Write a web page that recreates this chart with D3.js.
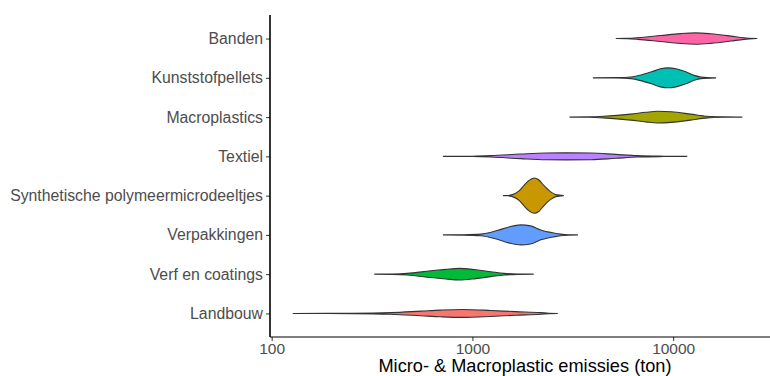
<html>
<head>
<script src="https://d3js.org/d3.v7.min.js"></script>
<style>
  body { margin: 0; background: white; }
  text { font-family: "Liberation Sans", Arial, sans-serif; }
</style>
</head>
<body>
<script>
// categories, top to bottom
var categories = ["Banden", "Kunststofpellets", "Macroplastics", "Textiel",
  "Synthetische polymeermicrodeeltjes", "Verpakkingen", "Verf en coatings", "Landbouw"];

var fills = ["#FF64A6", "#00BFB4", "#A3A500", "#B983FF", "#C99800", "#619CFF", "#00BA38", "#F8766D"];

// violin profiles: [emission (ton), relative density]
var banden = [[5200,0],[5900,0.01],[6660,0.045],[8670,0.17],[10900,0.28],[12960,0.32],[15400,0.27],[19400,0.14],[22500,0.045],[26100,0]];
var kunststofpellets = [[4000,0],[5180,0.01],[6150,0.045],[6900,0.16],[7800,0.34],[8640,0.51],[9430,0.565],[10330,0.51],[11560,0.34],[12720,0.14],[13750,0.045],[16300,0]];
var macroplastics = [[3060,0],[3800,0.01],[4500,0.045],[6150,0.17],[7300,0.27],[8350,0.33],[9800,0.3],[12200,0.17],[14800,0.045],[18000,0.01],[22000,0]];
var textiel = [[717,0],[1000,0.01],[1234,0.04],[1740,0.13],[2320,0.19],[2920,0.2],[3890,0.19],[5180,0.11],[6640,0.04],[9000,0.01],[11700,0]];
var synthetische = [[1427,0],[1500,0.01],[1582,0.056],[1707,0.27],[1808,0.58],[1908,0.85],[2028,1],[2139,0.9],[2274,0.56],[2455,0.21],[2600,0.056],[2840,0]];
var verpakkingen = [[717,0],[900,0.01],[1100,0.045],[1330,0.25],[1520,0.45],[1740,0.565],[1950,0.51],[2190,0.28],[2540,0.11],[2750,0.045],[3000,0.01],[3340,0]];
var verf = [[326,0],[400,0.01],[474,0.045],[620,0.19],[736,0.27],[858,0.33],[1038,0.25],[1234,0.14],[1437,0.045],[1700,0.01],[2010,0]];
var landbouw = [[128,0],[250,0.01],[392,0.045],[553,0.13],[695,0.19],[892,0.225],[1234,0.17],[1644,0.1],[2189,0.045],[2400,0.01],[2652,0]];

var profiles = [banden, kunststofpellets, macroplastics, textiel, synthetische, verpakkingen, verf, landbouw];

var xTicks = [100, 1000, 10000];
var xTitle = "Micro- & Macroplastic emissies (ton)";

var svgWidth = 770, svgHeight = 376;
var plotLeft = 270, plotTop = 15, plotBottom = 337, plotRight = 780;

var svg = d3.select("body").append("svg")
  .attr("width", svgWidth)
  .attr("height", svgHeight);

// log scale with ggplot-like 5% expansion of the data range
var allVals = d3.merge(profiles).map(function(d) { return d[0]; });
var lo = Math.log10(d3.min(allVals)), hi = Math.log10(d3.max(allVals));
var pad = (hi - lo) * 0.05;
var x = d3.scaleLog()
  .domain([Math.pow(10, lo - pad), Math.pow(10, hi + pad)])
  .range([plotLeft, plotRight]);

var y = d3.scalePoint()
  .domain(categories)
  .range([plotTop, plotBottom])
  .padding(0.6);

var maxHalf = 0.45 * y.step();

var plot = svg.append("g");

categories.forEach(function(cat, i) {
  var cy = y(cat);
  var area = d3.area()
    .curve(d3.curveMonotoneX)
    .x(function(d) { return x(d[0]); })
    .y0(function(d) { return cy + d[1] * maxHalf; })
    .y1(function(d) { return cy - d[1] * maxHalf; });
  plot.append("path")
    .datum(profiles[i])
    .attr("d", area)
    .style("fill", fills[i])
    .style("stroke", "#333333")
    .style("stroke-width", 1.1)
    .style("stroke-linejoin", "round");
});

// y axis
var yAxis = svg.append("g")
  .attr("transform", "translate(" + plotLeft + ",0)")
  .call(d3.axisLeft(y).tickSize(4).tickPadding(3));
yAxis.select(".domain").remove();
yAxis.selectAll(".tick line").attr("stroke", "#333333");
yAxis.selectAll(".tick text")
  .attr("fill", "#4d4d4d")
  .style("font-size", "15.8px")
  .style("font-family", "'Liberation Sans', Arial, sans-serif");

// x axis
var xAxis = svg.append("g")
  .attr("transform", "translate(0," + plotBottom + ")")
  .call(d3.axisBottom(x).tickValues(xTicks).tickFormat(d3.format("d")).tickSize(4).tickPadding(2));
xAxis.select(".domain").remove();
xAxis.selectAll(".tick line").attr("stroke", "#333333");
xAxis.selectAll(".tick text")
  .attr("fill", "#4d4d4d")
  .style("font-size", "15.5px")
  .style("font-family", "'Liberation Sans', Arial, sans-serif");

// axis lines
svg.append("line")
  .attr("x1", plotLeft).attr("x2", plotLeft)
  .attr("y1", plotTop).attr("y2", plotBottom)
  .style("stroke", "black").style("stroke-width", 1.6);
svg.append("line")
  .attr("x1", plotLeft).attr("x2", svgWidth)
  .attr("y1", plotBottom).attr("y2", plotBottom)
  .style("stroke", "black").style("stroke-width", 1.2);

svg.append("text")
  .text(xTitle)
  .attr("x", 525)
  .attr("y", 372)
  .attr("text-anchor", "middle")
  .style("font-size", "18.2px")
  .style("fill", "black");
</script>
</body>
</html>
